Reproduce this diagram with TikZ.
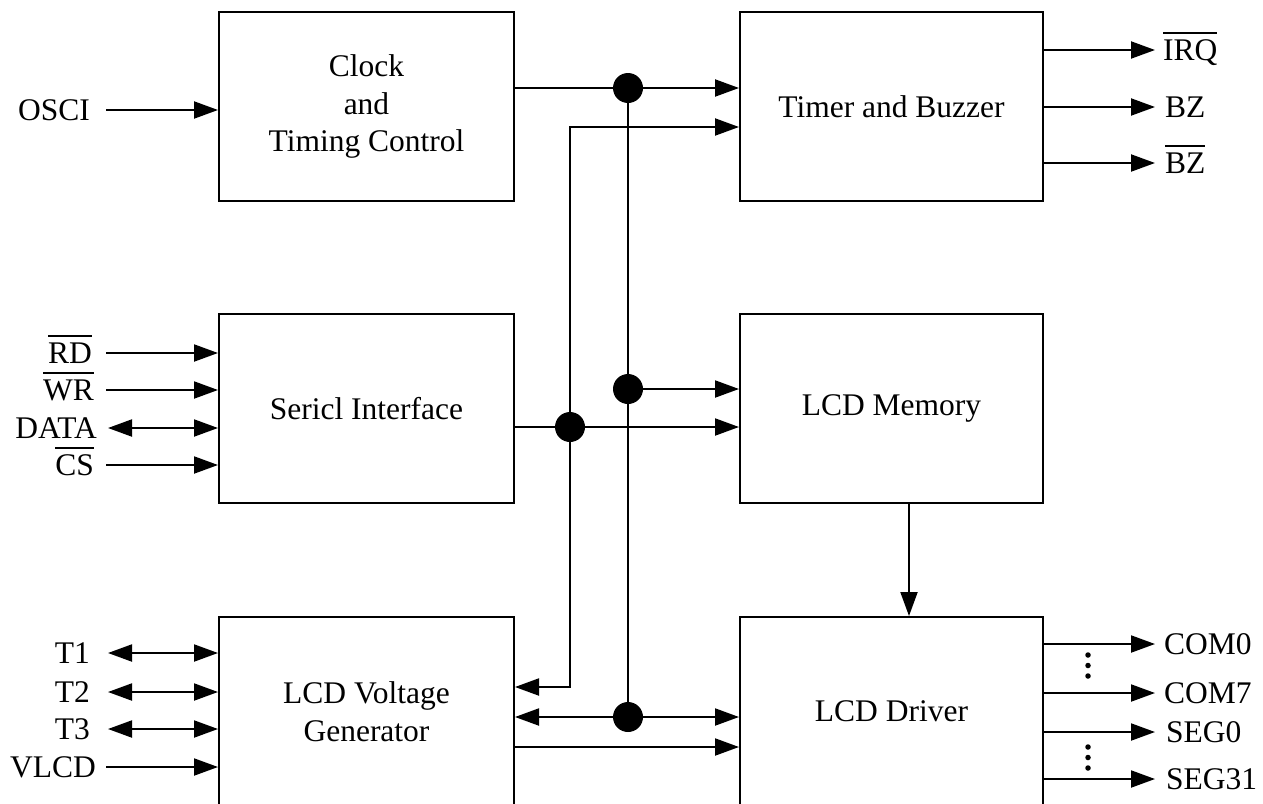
\documentclass[tikz,border=0pt]{standalone}
\usepackage{fontspec}
\setmainfont{Liberation Serif}
\usetikzlibrary{arrows.meta}
\newcommand{\ovl}[1]{\vbox{\hrule height 1.6pt\kern 6pt\hbox{#1}}}
\begin{document}
\begin{tikzpicture}[x=1pt,y=-1pt,
  font=\fontsize{31.5}{37.5}\selectfont,
  blkL/.style={draw,line width=2pt,minimum width=295pt,minimum height=189pt,align=center,inner sep=0pt},
  blkR/.style={draw,line width=2pt,minimum width=303pt,minimum height=189pt,align=center,inner sep=0pt},
  lbl/.style={inner sep=0pt,text height=21pt,text depth=0pt},
  lblL/.style={lbl,anchor=east},
  lblR/.style={lbl,anchor=west},
  wire/.style={line width=2pt},
  arr/.style={wire,-{Triangle[length=24pt,width=17pt]}},
  arr2/.style={wire,{Triangle[length=24pt,width=17pt]}-{Triangle[length=24pt,width=17pt]}},
  bigdot/.style={circle,fill,inner sep=0pt,minimum size=30pt},
  smalldot/.style={circle,fill,inner sep=0pt,minimum size=5.5pt}]
\useasboundingbox (0,0) rectangle (1263,803);
\clip (0,0) rectangle (1263,803);

% blocks
\node[blkL] (clock) at (366.5,106.5) {Clock\\and\\Timing Control};
\node[blkR] (timer) at (891.5,106.5) {Timer and Buzzer};
\node[blkL] (serial) at (366.5,408.5) {Sericl Interface};
\node[blkR] (mem) at (891.5,408.5) {LCD Memory};
\node[blkL] (volt) at (366.5,711.5) {LCD Voltage\\Generator};
\node[blkR] (drv) at (891.5,711.5) {LCD Driver};

% helper coordinates
\coordinate (yA) at (0,88);
\coordinate (yC) at (0,389);
\coordinate (yD) at (0,427);
\coordinate (yF) at (0,717);
\coordinate (yG) at (0,747);
\coordinate (b1) at (570,127);
\coordinate (b2) at (570,687);
\coordinate (xm) at (909,0);

% junction dots
\node[bigdot] (d1) at (628,88) {};
\node[bigdot] (d2) at (628,389) {};
\node[bigdot] (d3) at (570,427) {};
\node[bigdot] (d4) at (628,717) {};

% internal connectors
\draw[arr] (clock.east |- yA) -- (timer.west |- yA);
\draw[wire] (d1.center) -- (d4.center);
\draw[arr] (d2.center) -- (mem.west |- yC);
\draw[arr] (serial.east |- yD) -- (mem.west |- yD);
\draw[arr2] (timer.west |- b1) -- (b1) -- (b2) -- (volt.east |- b2);
\draw[arr2] (volt.east |- yF) -- (drv.west |- yF);
\draw[arr] (volt.east |- yG) -- (drv.west |- yG);
\draw[arr] (mem.south -| xm) -- (drv.north -| xm);

% left labels and inputs
\node[lblL] (osci) at (90,110) {OSCI};
\node[lblL] (rd) at (92,353) {\ovl{RD}};
\node[lblL] (wr) at (94,390) {\ovl{WR}};
\node[lblL] (data) at (97,428) {DATA};
\node[lblL] (cs) at (94,465) {\ovl{CS}};
\node[lblL] (t1) at (90,653) {T1};
\node[lblL] (t2) at (90,692) {T2};
\node[lblL] (t3) at (90,729) {T3};
\node[lblL] (vlcd) at (96,767) {VLCD};

\draw[arr] ([xshift=16pt]osci.east) -- (clock.west |- osci.east);
\draw[arr] ([xshift=14pt]rd.east) -- (serial.west |- rd.east);
\draw[arr] ([xshift=12pt]wr.east) -- (serial.west |- wr.east);
\draw[arr2] ([xshift=11pt]data.east) -- (serial.west |- data.east);
\draw[arr] ([xshift=12pt]cs.east) -- (serial.west |- cs.east);
\draw[arr2] ([xshift=18pt]t1.east) -- (volt.west |- t1.east);
\draw[arr2] ([xshift=18pt]t2.east) -- (volt.west |- t2.east);
\draw[arr2] ([xshift=18pt]t3.east) -- (volt.west |- t3.east);
\draw[arr] ([xshift=10pt]vlcd.east) -- (volt.west |- vlcd.east);

% right labels and outputs
\node[lblR] (irq) at (1163,50) {\ovl{IRQ}};
\node[lblR] (bz) at (1165,107) {BZ};
\node[lblR] (bzn) at (1165,163) {\ovl{BZ}};
\node[lblR] (com0) at (1164,644) {COM0};
\node[lblR] (com7) at (1164,693) {COM7};
\node[lblR] (seg0) at (1166,732) {SEG0};
\node[lblR] (seg31) at (1166,779) {SEG31};

\draw[arr] (timer.east |- irq.west) -- ([xshift=-8pt]irq.west);
\draw[arr] (timer.east |- bz.west) -- ([xshift=-10pt]bz.west);
\draw[arr] (timer.east |- bzn.west) -- ([xshift=-10pt]bzn.west);
\draw[arr] (drv.east |- com0.west) -- ([xshift=-9pt]com0.west);
\draw[arr] (drv.east |- com7.west) -- ([xshift=-9pt]com7.west);
\draw[arr] (drv.east |- seg0.west) -- ([xshift=-11pt]seg0.west);
\draw[arr] (drv.east |- seg31.west) -- ([xshift=-11pt]seg31.west);

% ellipsis dots
\node[smalldot] (e1) at (1088,655) {};
\node[smalldot] (e2) at (1088,665.5) {};
\node[smalldot] (e3) at (1088,676) {};
\node[smalldot] (e4) at (1088,747) {};
\node[smalldot] (e5) at (1088,757.5) {};
\node[smalldot] (e6) at (1088,768) {};
\end{tikzpicture}
\end{document}
